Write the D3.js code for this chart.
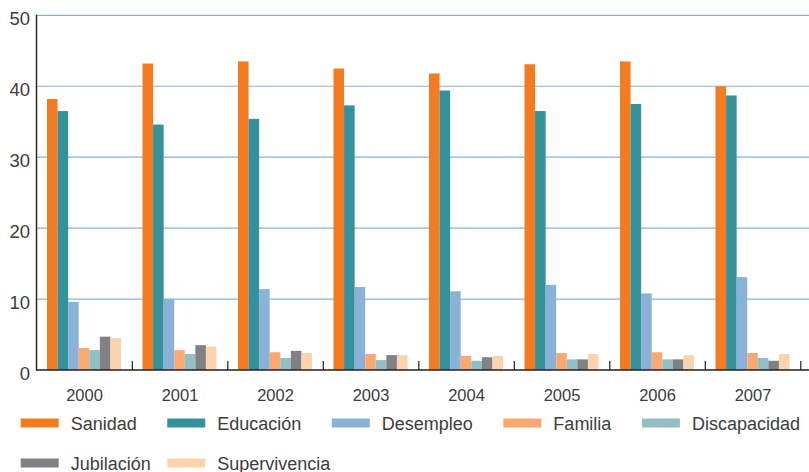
<!DOCTYPE html>
<html>
<head>
<meta charset="utf-8">
<script src="https://cdn.jsdelivr.net/npm/d3@7"></script>
<style>
  html, body { margin: 0; padding: 0; background: #fff; }
  svg text { font-family: "Liberation Sans", Arial, Helvetica, sans-serif; fill: #3d3d3d; }
</style>
</head>
<body>
<svg id="chart" width="809" height="472"></svg>
<script>
const years = ["2000", "2001", "2002", "2003", "2004", "2005", "2006", "2007"];
const seriesNames = ["Sanidad", "Educación", "Desempleo", "Familia", "Discapacidad", "Jubilación", "Supervivencia"];
const seriesColors = ["#F47B20", "#35919A", "#8AB2D9", "#F9A870", "#93BFC4", "#808184", "#FDD2AF"];
const sanidad       = [38.2, 43.2, 43.5, 42.5, 41.8, 43.1, 43.5, 40.0];
const educacion     = [36.5, 34.6, 35.4, 37.3, 39.4, 36.5, 37.5, 38.7];
const desempleo     = [9.6, 10.0, 11.4, 11.7, 11.1, 12.0, 10.8, 13.1];
const familia       = [3.1, 2.8, 2.5, 2.25, 2.0, 2.4, 2.5, 2.4];
const discapacidad  = [2.8, 2.25, 1.7, 1.4, 1.3, 1.5, 1.5, 1.7];
const jubilacion    = [4.7, 3.5, 2.7, 2.1, 1.8, 1.5, 1.5, 1.3];
const supervivencia = [4.5, 3.3, 2.4, 2.1, 2.0, 2.25, 2.1, 2.25];
const yTicks = [0, 10, 20, 30, 40, 50];

const seriesValues = [sanidad, educacion, desempleo, familia, discapacidad, jubilacion, supervivencia];

const svg = d3.select("#chart");
const axisX = 36.5, rightX = 809, y0 = 370, yTop = 15.3;

const x0 = d3.scaleBand().domain(years).range([36.8, 800.8]).padding(0);
const x1 = d3.scaleBand().domain(seriesNames).range([10.2, 84.2]).padding(0);
const y = d3.scaleLinear().domain([0, 50]).range([y0, yTop]);
const color = d3.scaleOrdinal().domain(seriesNames).range(seriesColors);

// gridlines
svg.append("g").selectAll("line").data(yTicks.filter(t => t > 0)).join("line")
  .attr("x1", axisX).attr("x2", rightX)
  .attr("y1", d => y(d)).attr("y2", d => y(d))
  .attr("stroke", "#86b2db").attr("stroke-width", 1.2);

// bars
const groups = svg.append("g").selectAll("g").data(years).join("g")
  .attr("transform", d => `translate(${x0(d)},0)`);
groups.selectAll("rect")
  .data((yr, i) => seriesNames.map((s, k) => ({ s, v: seriesValues[k][i] })))
  .join("rect")
  .attr("x", d => x1(d.s))
  .attr("width", x1.bandwidth())
  .attr("y", d => y(d.v))
  .attr("height", d => y0 - y(d.v))
  .attr("fill", d => color(d.s));

// y tick labels
svg.append("g").selectAll("text").data(yTicks).join("text")
  .attr("x", 30).attr("y", d => y(d) + 9.8)
  .attr("text-anchor", "end")
  .attr("font-size", 18.5)
  .text(d => d);

// axes lines
svg.append("line").attr("x1", axisX).attr("x2", axisX).attr("y1", yTop - 0.5).attr("y2", y0 + 0.7)
  .attr("stroke", "#231f20").attr("stroke-width", 1.4);
svg.append("line").attr("x1", axisX).attr("x2", rightX).attr("y1", y0).attr("y2", y0)
  .attr("stroke", "#231f20").attr("stroke-width", 1.4);

// category separator ticks (pointing up)
svg.append("g").selectAll("line").data(years).join("line")
  .attr("x1", d => x0(d) + x0.bandwidth()).attr("x2", d => x0(d) + x0.bandwidth())
  .attr("y1", y0).attr("y2", y0 - 9)
  .attr("stroke", "#231f20").attr("stroke-width", 1.2);

// x labels
svg.append("g").selectAll("text").data(years).join("text")
  .attr("x", d => x0(d) + x0.bandwidth() / 2)
  .attr("y", 400.5)
  .attr("text-anchor", "middle")
  .attr("font-size", 16.5)
  .text(d => d);

// legend: first row sets column positions, following rows reuse them
const legend = svg.append("g");
const swW = 38, swH = 9, textGap = 12, itemGap = 30.5, legendLeft = 20.7, legendRight = 809;
const rowsY = [418.5, 458.5];
const colX = [];
let cx = legendLeft, row = 0, col = 0;
seriesNames.forEach((name, k) => {
  const g = legend.append("g");
  const t = g.append("text").attr("font-size", 18).text(name);
  const w = t.node().getComputedTextLength();
  if (row === 0 && cx + swW + textGap + w > legendRight + 2) { row = 1; col = 0; }
  let px;
  if (row === 0) { px = cx; colX.push(cx); cx += swW + textGap + w + itemGap; }
  else { px = colX[col]; }
  col += 1;
  g.attr("transform", `translate(${px},${rowsY[row]})`);
  g.insert("rect", "text").attr("x", 0).attr("y", 0).attr("width", swW).attr("height", swH)
    .attr("fill", color(name));
  t.attr("x", swW + textGap).attr("y", 11.2);
});
</script>
</body>
</html>
